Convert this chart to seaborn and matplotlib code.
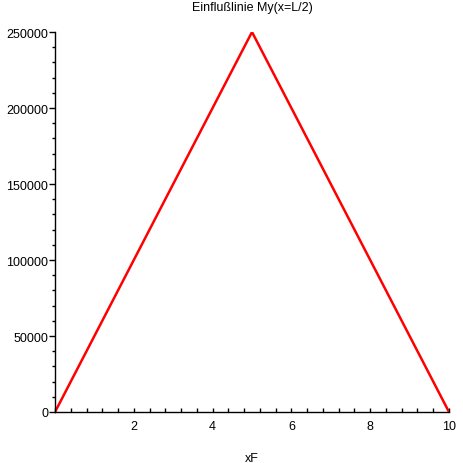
import matplotlib
matplotlib.use('Agg')
import matplotlib.pyplot as plt
import seaborn as sns
from matplotlib.ticker import MultipleLocator, FuncFormatter

# data
xF = [0, 5, 10]
My = [0, 250000, 0]
x_ticks = [2, 4, 6, 8, 10]
y_ticks = [0, 50000, 100000, 150000, 200000, 250000]

sns.set_style('white')
plt.rcParams['font.family'] = ['Liberation Sans', 'DejaVu Sans']
plt.rcParams['text.color'] = 'black'
plt.rcParams['xtick.color'] = 'black'
plt.rcParams['ytick.color'] = 'black'
plt.rcParams['axes.labelcolor'] = 'black'

fig = plt.figure(figsize=(4.64, 4.64), dpi=100)
ax = fig.add_axes([55/464, 51/464, 394/464, 380/464])

sns.lineplot(x=xF, y=My, ax=ax, color='#ff0000', linewidth=1.8)

ax.set_xlim(0, 10)
ax.set_ylim(0, 250000)
ax.set_xticks(x_ticks)
ax.set_yticks(y_ticks)
ax.xaxis.set_minor_locator(MultipleLocator(0.4))
ax.yaxis.set_minor_locator(MultipleLocator(10000))
ax.yaxis.set_major_formatter(FuncFormatter(lambda v, p: '%d' % v))

for s in ['top', 'right']:
    ax.spines[s].set_visible(False)
for s in ['left', 'bottom']:
    ax.spines[s].set_color('black')
    ax.spines[s].set_linewidth(1.0)

ax.tick_params(axis='x', which='both', direction='in', length=3, width=1,
               labelsize=9, pad=6, bottom=True)
ax.tick_params(axis='y', which='major', direction='out', length=4, width=1,
               labelsize=9, pad=1, left=True)
ax.tick_params(axis='y', which='minor', direction='out', length=2, width=1, left=True)

ax.set_xlabel('xF', fontsize=9, labelpad=14)
ax.set_ylabel('')
ax.set_title('Einflußlinie My(x=L/2)', fontsize=9, pad=16)

fig.savefig('out.png', dpi=100)
